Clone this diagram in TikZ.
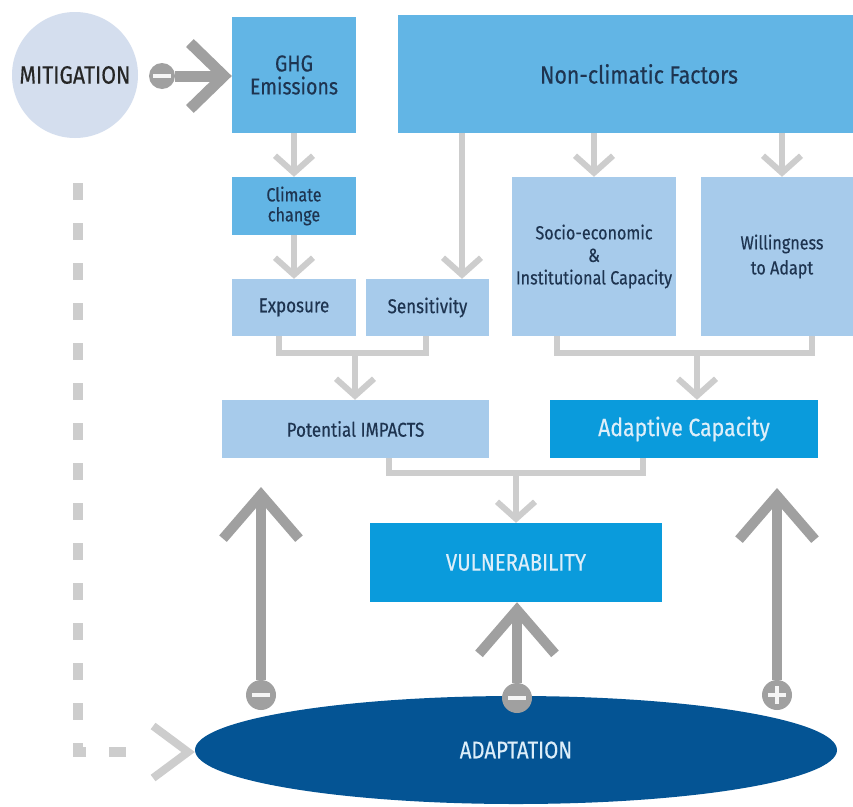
\documentclass[tikz,border=0pt]{standalone}
\usepackage{fontspec}
\setmainfont{Fira Sans}[FakeStretch=0.85,FakeBold=0.4]
\usetikzlibrary{arrows.meta,shapes.geometric}
\definecolor{midblue}{HTML}{62B5E5}
\definecolor{lightblue}{HTML}{A7CBEB}
\definecolor{brightblue}{HTML}{0A9BDC}
\definecolor{darkblue}{HTML}{045494}
\definecolor{mitcol}{HTML}{D4DEEE}
\definecolor{lgray}{HTML}{CDCDCD}
\definecolor{dgray}{HTML}{A0A0A0}
\definecolor{navy}{HTML}{1E3450}
\definecolor{paletext}{HTML}{DDEEF9}
\begin{document}
\begin{tikzpicture}[x=1pt,y=-1pt,
  box/.style={rectangle,inner sep=0pt,align=center,text=navy,font=\fontsize{20}{22}\selectfont},
  midbox/.style={box,fill=midblue},
  lightbox/.style={box,fill=lightblue},
  brightbox/.style={box,fill=brightblue,text=paletext},
  conn/.style={draw=lgray,line width=6pt,-{Straight Barb[length=17pt,width=38pt]}},
  bline/.style={draw=lgray,line width=6pt},
  bigarrow/.style={draw=dgray,line width=10pt,-{Straight Barb[length=44pt,width=76pt]}},
  mitarrow/.style={draw=dgray,line width=11pt,-{Straight Barb[length=34pt,width=66pt]}},
  dashline/.style={draw=lgray,line width=10pt,dash pattern=on 17pt off 23pt},
  dashtip/.style={draw=lgray,line width=8pt,dash pattern=on 0pt off 300pt,-{Straight Barb[length=35pt,width=52pt]}},
  sign/.style={circle,fill=dgray,minimum size=30pt,inner sep=0pt},
  minus/.style={sign,path picture={\draw[white!92!gray,line width=4.5pt] ([xshift=-9pt]path picture bounding box.center) -- ([xshift=9pt]path picture bounding box.center);}},
  plus/.style={sign,path picture={\draw[white!92!gray,line width=4.5pt] ([xshift=-9pt]path picture bounding box.center) -- ([xshift=9pt]path picture bounding box.center) ([yshift=-9pt]path picture bounding box.center) -- ([yshift=9pt]path picture bounding box.center);}}
]
\clip (0,0) rectangle (853,806);
\fill[white] (0,0) rectangle (853,806);

% nodes
\node[circle,fill=mitcol,minimum size=126pt,inner sep=0pt,text=black!85,font=\fontsize{25}{27}\selectfont] (mit) at (75,75) {MITIGATION};
\node[midbox,minimum width=124pt,minimum height=116pt,font=\fontsize{23}{23}\selectfont] (ghg) at (294,75) {GHG\\Emissions};
\node[midbox,minimum width=482pt,minimum height=118pt,font=\fontsize{25}{27}\selectfont] (ncf) at (639,74) {Non-climatic Factors};
\node[midbox,minimum width=124pt,minimum height=58pt,font=\fontsize{19}{20}\selectfont] (cc) at (294,206) {Climate\\change};
\node[lightbox,minimum width=124pt,minimum height=57pt] (expo) at (294,307.5) {Exposure};
\node[lightbox,minimum width=123pt,minimum height=57pt] (sens) at (427.5,307.5) {Sensitivity};
\node[lightbox,minimum width=164pt,minimum height=159pt,font=\fontsize{19}{22.5}\selectfont] (socio) at (594,256.5) {Socio-economic\\\&\\Institutional Capacity};
\node[lightbox,minimum width=162pt,minimum height=159pt,font=\fontsize{19}{25}\selectfont] (will) at (782,256.5) {Willingness\\to Adapt};
\node[lightbox,minimum width=267pt,minimum height=58pt] (imp) at (355.5,429) {Potential IMPACTS};
\node[brightbox,minimum width=268pt,minimum height=58pt,font=\fontsize{25}{27}\selectfont] (adcap) at (684,429) {Adaptive Capacity};
\node[brightbox,minimum width=292pt,minimum height=79pt,font=\fontsize{24}{26}\selectfont] (vul) at (516,562.5) {VULNERABILITY};
\node[ellipse,fill=darkblue,minimum width=642pt,minimum height=108pt,inner sep=0pt,text=paletext,font=\fontsize{24}{26}\selectfont] (adapt) at (516,750) {ADAPTATION};

% light connectors
\draw[conn] (ghg) -- (cc);
\draw[conn] (cc) -- (expo);
\coordinate (sx) at (462,0);
\draw[conn] (ncf.south -| sx) -- (sens.north -| sx);
\draw[conn] (ncf.south -| socio.north) -- (socio.north);
\draw[conn] (ncf.south -| will.north) -- (will.north);
\coordinate (j1) at (355,353);
\draw[bline] ([xshift=-15pt]expo.south) |- (j1) -| ([xshift=-2pt]sens.south);
\draw[conn] (j1) -- (j1 |- imp.north);
\coordinate (j2) at (697,353);
\draw[bline] ([xshift=-37pt]socio.south) |- (j2) -| ([xshift=30pt]will.south);
\draw[conn] (j2) -- (j2 |- adcap.north);
\coordinate (j3) at (516,473);
\draw[bline] ([xshift=33.5pt]imp.south) |- (j3) -| ([xshift=-41pt]adcap.south);
\draw[conn] (j3) -- (vul.north);

% mitigation arrow
\node[minus,minimum size=26pt] (mm) at (162,76) {};
\draw[mitarrow] (mm.east) -- (ghg.west |- mm.east);

% dashed mitigation -> adaptation
\coordinate (dc) at (78,752);
\coordinate (da) at (140,752);
\draw[dashline] ([xshift=3pt,yshift=-45pt]mit.south) -- (dc) -- (da);
\draw[dashtip] (da) -- (adapt.west |- da);

% big adaptation arrows
\node[minus] (s1) at (261,695) {};
\coordinate (t1) at (261,487);
\draw[bigarrow] (s1.north) -- (t1);
\node[minus] (s2) at (517,698) {};
\draw[bigarrow] (s2.north) -- (s2 |- vul.south);
\node[plus] (s3) at (777,695) {};
\coordinate (t3) at (777,488);
\draw[bigarrow] (s3.north) -- (t3);
\end{tikzpicture}
\end{document}
